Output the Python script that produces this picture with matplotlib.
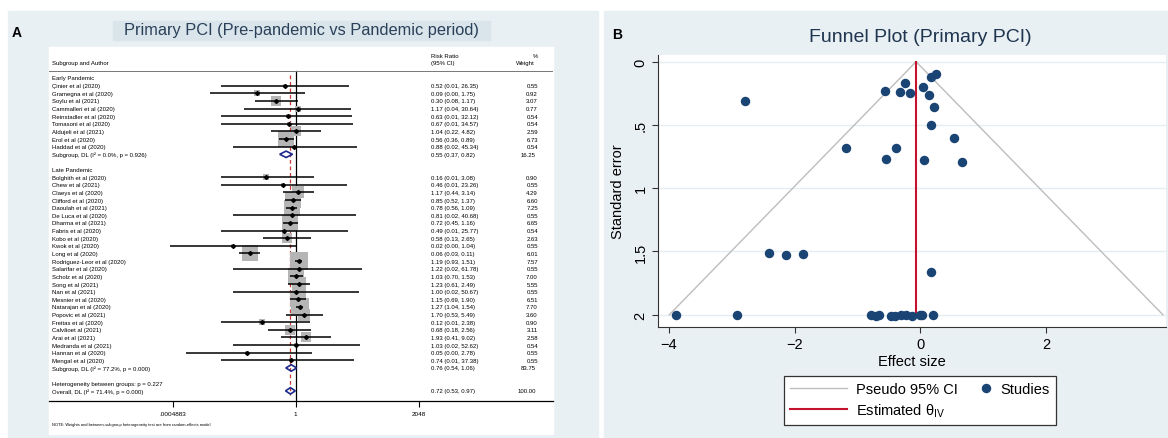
import numpy as np
import matplotlib.pyplot as plt
from matplotlib.patches import Rectangle, Polygon
from matplotlib.transforms import blended_transform_factory
from matplotlib.legend_handler import HandlerLine2D

plt.rcParams['font.family'] = ['Liberation Sans', 'DejaVu Sans']

# ---- forest plot data (risk ratio, 95% CI, % weight) ----
early_authors = ["Çinier et al (2020)", "Gramegna et al (2020)", "Soylu et al (2021)",
                 "Cammalleri et al (2020)", "Reinstadler et al (2020)", "Tomasoni et al (2020)",
                 "Aldujeli et al (2021)", "Erol et al (2020)", "Haddad et al (2020)"]
early_rr = [0.52, 0.09, 0.30, 1.17, 0.63, 0.67, 1.04, 0.56, 0.88]
early_lo = [0.01, 0.0049, 0.08, 0.04, 0.01, 0.01, 0.22, 0.36, 0.02]
early_hi = [26.35, 1.75, 1.17, 30.64, 32.12, 34.57, 4.82, 0.89, 45.34]
early_w = [0.55, 0.92, 3.07, 0.77, 0.54, 0.54, 2.59, 6.73, 0.54]

late_authors = ["Bolghith et al (2020)", "Chew et al (2021)", "Claeys et al (2020)",
                "Clifford et al (2020)", "Daoulah et al (2021)", "De Luca et al (2020)",
                "Dharma et al (2021)", "Fabris et al (2020)", "Kobo et al (2020)",
                "Kwok et al (2020)", "Long et al (2020)", "Rodriguez-Leor et al (2020)",
                "Salarifar et al (2020)", "Scholz et al (2020)", "Song et al (2021)",
                "Nan et al (2021)", "Mesnier et al (2020)", "Natarajan et al (2020)",
                "Popovic et al (2021)", "Freitas et al (2020)", "Calvãoet al (2021)",
                "Arai et al (2021)", "Medranda et al (2021)", "Hannan et al (2020)",
                "Mengal et al (2020)"]
late_rr = [0.16, 0.46, 1.17, 0.85, 0.78, 0.81, 0.72, 0.49, 0.58, 0.02, 0.06, 1.19, 1.22,
           1.03, 1.23, 1.00, 1.15, 1.27, 1.70, 0.12, 0.68, 1.93, 1.03, 0.05, 0.74]
late_lo = [0.01, 0.01, 0.44, 0.52, 0.56, 0.02, 0.45, 0.01, 0.13, 0.0004, 0.03, 0.93, 0.02,
           0.70, 0.61, 0.02, 0.69, 1.04, 0.53, 0.01, 0.18, 0.41, 0.02, 0.0011, 0.01]
late_hi = [3.08, 23.26, 3.14, 1.37, 1.09, 40.68, 1.16, 25.77, 2.65, 1.04, 0.11, 1.51, 61.78,
           1.53, 2.49, 50.67, 1.90, 1.54, 5.49, 2.38, 2.56, 9.02, 52.62, 2.78, 37.38]
late_w = [0.90, 0.55, 4.29, 6.60, 7.25, 0.55, 6.65, 0.54, 2.63, 0.55, 6.01, 7.57, 0.55,
          7.00, 5.55, 0.55, 6.51, 7.70, 3.60, 0.90, 3.11, 2.58, 0.54, 0.55, 0.55]

# pooled: early, late, overall
pool_labels = ["Subgroup, DL (I² = 0.0%, p = 0.926)",
               "Subgroup, DL (I² = 77.2%, p = 0.000)",
               "Overall, DL (I² = 71.4%, p = 0.000)"]
pool_rr = [0.55, 0.76, 0.72]
pool_lo = [0.37, 0.54, 0.53]
pool_hi = [0.82, 1.06, 0.97]
pool_w = [16.25, 83.75, 100.00]
het_text = "Heterogeneity between groups: p = 0.227"

# ---- funnel plot data (log effect size, standard error) ----
funnel_es = [-2.78, 0.24, 0.17, -0.25, -0.57, -0.33, -0.17, 0.04, 0.14, 0.21, 0.16, 0.54,
             -1.19, -0.39, -0.55, 0.05, 0.66, -2.40, -2.13, -1.86, 0.16, -3.89, -2.91,
             -0.78, -0.71, -0.66, -0.47, -0.40, -0.31, -0.23, -0.13, -0.01, 0.03, 0.20]
funnel_se = [0.31, 0.10, 0.12, 0.17, 0.23, 0.24, 0.25, 0.20, 0.26, 0.36, 0.50, 0.60,
             0.68, 0.68, 0.77, 0.78, 0.79, 1.51, 1.53, 1.52, 1.66, 2.0, 2.0,
             2.0, 2.01, 2.0, 2.01, 2.01, 2.0, 2.0, 2.01, 2.0, 2.0, 2.0]
theta_iv = -0.07
se_max = 2.0

W, H = 1168, 439
fig = plt.figure(figsize=(W / 100, H / 100), dpi=100)


def fx(px):
    return px / W


def fy(py):
    return 1 - py / H


def add_rect(x0, y0, x1, y1, color):
    fig.patches.append(Rectangle((fx(x0), fy(y1)), fx(x1) - fx(x0), fy(y0) - fy(y1),
                                 transform=fig.transFigure, color=color, zorder=-5))


bg = '#e9f0f3'
add_rect(8, 12, 598, 439, bg)
add_rect(604, 12, 1168, 439, bg)
add_rect(113, 22, 490, 41, '#d9e4eb')
add_rect(49, 48, 553, 435, 'white')

fig.text(fx(12), fy(33), 'A', fontsize=10, fontweight='bold', va='center')
fig.text(fx(612), fy(35), 'B', fontsize=10, fontweight='bold', va='center')
fig.text(fx(301), fy(31), 'Primary PCI (Pre-pandemic vs Pandemic period)',
         fontsize=11.8, color='#2a4058', ha='center', va='center')

# ---------------- A: forest plot ----------------
ax = fig.add_axes([fx(49), fy(402), fx(553) - fx(49), (402 - 48) / H])
ax.set_facecolor('none')
ax.set_xscale('log', base=2)
ax.set_xlim(2 ** -22.07, 2 ** 23.01)
ax.set_ylim(42.33, -4.06)
tr = blended_transform_factory(ax.transAxes, ax.transData)
fs = 4.3
col_lab, col_ci, col_w = 0.006, 0.758, 0.970

ax.text(col_lab, -1.97, "Subgroup and Author", transform=tr, fontsize=fs, va='center')
ax.text(col_ci, -3.01, "Risk Ratio", transform=tr, fontsize=fs, va='center')
ax.text(col_ci, -1.97, "(95% CI)", transform=tr, fontsize=fs, va='center')
ax.text(col_w, -3.01, "%", transform=tr, fontsize=fs, va='center', ha='right')
ax.text(col_w - 0.006, -1.97, "Weight", transform=tr, fontsize=fs, va='center', ha='right')
ax.axhline(-0.92, color='#777777', lw=0.7)


def study_rows(authors, rr, lo, hi, w, start):
    for i in range(len(authors)):
        y = start + i
        ax.plot(rr[i], y, marker='s', ms=4.45 * np.sqrt(w[i]), color='#b5b5b5', mew=0, zorder=2)
        ax.plot([lo[i], hi[i]], [y, y], color='black', lw=1.1, zorder=3, solid_capstyle='butt')
        ax.plot(rr[i], y, marker='D', ms=2.0, color='black', zorder=4)
        ax.text(col_lab, y, authors[i], transform=tr, fontsize=fs, va='center')
        ax.text(col_ci, y, f"{rr[i]:.2f} ({lo[i]:.2f}, {hi[i]:.2f})", transform=tr,
                fontsize=fs, va='center')
        ax.text(col_w, y, f"{w[i]:.2f}", transform=tr, fontsize=fs, va='center', ha='right')


def pooled_row(k, y):
    h = 0.42
    ax.add_patch(Polygon([(pool_lo[k], y), (pool_rr[k], y - h), (pool_hi[k], y), (pool_rr[k], y + h)],
                         closed=True, fill=False, edgecolor='#1c2a8c', lw=1.2, zorder=5))
    ax.text(col_lab, y, pool_labels[k], transform=tr, fontsize=fs, va='center')
    ax.text(col_ci, y, f"{pool_rr[k]:.2f} ({pool_lo[k]:.2f}, {pool_hi[k]:.2f})", transform=tr,
            fontsize=fs, va='center')
    ax.text(col_w - 0.004, y, f"{pool_w[k]:.2f}", transform=tr, fontsize=fs, va='center', ha='right')


ax.text(col_lab, 0, "Early Pandemic", transform=tr, fontsize=fs, va='center')
study_rows(early_authors, early_rr, early_lo, early_hi, early_w, 1)
pooled_row(0, 1 + len(early_authors))
late_head = 3 + len(early_authors)
ax.text(col_lab, late_head, "Late Pandemic", transform=tr, fontsize=fs, va='center')
study_rows(late_authors, late_rr, late_lo, late_hi, late_w, late_head + 1)
late_pool = late_head + 1 + len(late_authors)
pooled_row(1, late_pool)
ax.text(col_lab, late_pool + 2, het_text, transform=tr, fontsize=fs, va='center')
pooled_row(2, late_pool + 3)

ax.plot([1, 1], [-0.92, 42.33], color='black', lw=0.9, zorder=1)
ax.plot([pool_rr[2], pool_rr[2]], [-0.4, late_pool + 3.5], color='#c83a32', lw=0.9,
        dashes=(3, 2.2), zorder=1)

for s in ['left', 'top', 'right']:
    ax.spines[s].set_visible(False)
ax.spines['bottom'].set_linewidth(0.9)
ax.set_xticks([2 ** -11, 1, 2 ** 11])
ax.set_xticklabels(['.0004883', '1', '2048'])
ax.minorticks_off()
ax.set_yticks([])
ax.tick_params(axis='x', length=4, width=0.8, labelsize=4.6, pad=3)

fig.text(fx(52), fy(425),
         "NOTE: Weights and between-subgroup heterogeneity test are from random-effects model",
         fontsize=2.9, va='center')

# ---------------- B: funnel plot ----------------
fig.text(fx(920), fy(38), 'Funnel Plot (Primary PCI)', ha='center', va='center',
         fontsize=14, color='#1f3550')
ax2 = fig.add_axes([fx(658), fy(328), fx(1166) - fx(658), (328 - 56) / H])
ax2.set_facecolor('white')
ax2.set_xlim(-4.17, 3.90)
ax2.set_ylim(2.097, -0.053)
yt = [0, 0.5, 1, 1.5, 2]
for t in yt:
    ax2.axhline(t, color='#e4eef1', lw=1, zorder=0)

ci_line, = ax2.plot([theta_iv - 1.96 * se_max, theta_iv, theta_iv + 1.96 * se_max],
                    [se_max, 0, se_max], color='#bdbdbd', lw=1, zorder=1)
est_line, = ax2.plot([theta_iv, theta_iv], [0, se_max], color='#c4122f', lw=1.5, zorder=2)
pts, = ax2.plot(funnel_es, funnel_se, 'o', ls='none', color='#1a4474', ms=5.8, zorder=3)

ax2.set_xticks([-4, -2, 0, 2])
ax2.set_yticks(yt)
ax2.set_yticklabels(['0', '.5', '1', '1.5', '2'], rotation=90, va='center')
ax2.tick_params(labelsize=10.5, length=4, color='#333333')
for s in ['top', 'right']:
    ax2.spines[s].set_visible(False)
ax2.spines['left'].set_color('#333333')
ax2.spines['bottom'].set_color('#333333')
ax2.set_xlabel('Effect size', fontsize=10.5, labelpad=2)
ax2.set_ylabel('Standard error', fontsize=10.5, labelpad=6)


class RightDot(HandlerLine2D):
    # put the single marker near the right end of the handle box
    def get_xdata(self, legend, xdescent, ydescent, width, height, fontsize):
        d = width - xdescent - 0.35 * fontsize
        return np.array([d - 1.0, d + 1.0]), np.array([d])


leg = fig.legend([ci_line, est_line, pts],
                 ['Pseudo 95% CI', r'Estimated θ$_{\mathregular{IV}}$', 'Studies'],
                 loc='center', bbox_to_anchor=(fx(920), fy(401.5)),
                 bbox_transform=fig.transFigure, ncol=2, fontsize=10.5, frameon=True,
                 fancybox=False, edgecolor='#333333', handlelength=3.9, handletextpad=0.6,
                 columnspacing=-1.6, borderpad=0.45, labelspacing=0.35,
                 handler_map={pts: RightDot(numpoints=1)})
leg.get_frame().set_linewidth(0.9)
leg.get_frame().set_alpha(1)

fig.savefig('out.png', dpi=100)
